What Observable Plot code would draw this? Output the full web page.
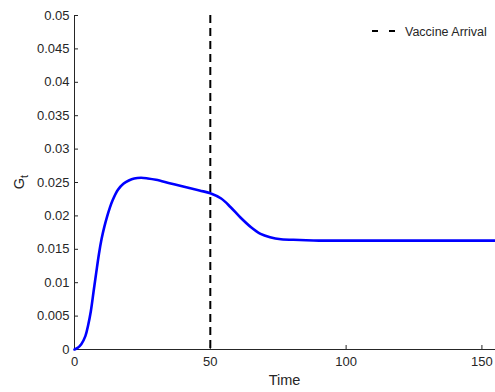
<!DOCTYPE html>
<html>
<head>
<meta charset="utf-8">
<script src="https://cdn.jsdelivr.net/npm/d3@7"></script>
<script src="https://cdn.jsdelivr.net/npm/@observablehq/plot@0.6"></script>
<style>
  html, body { margin: 0; padding: 0; background: #fff; }
  #chart svg { display: block; font-family: "Liberation Sans", Arial, Helvetica, sans-serif; }
</style>
</head>
<body>
<div id="chart"></div>
<script>
// Time axis and share G_t over time
const time = [0, 1, 2.5, 4, 5, 6, 7, 8, 9, 10, 11, 12, 13, 14, 16, 18, 20, 22, 24.5, 27, 30, 35, 40, 46, 50, 54, 57.5, 61, 65, 68.5, 72, 76, 83, 90, 100, 120, 140, 155];
const gt   = [0, 0.0002, 0.0008, 0.0020, 0.0036, 0.0057, 0.0086, 0.0115, 0.0143, 0.0166, 0.0184, 0.0199, 0.0212, 0.0223, 0.0239, 0.0248, 0.0253, 0.0256, 0.0257, 0.0256, 0.0254, 0.0249, 0.0244, 0.0238, 0.0234, 0.0226, 0.0213, 0.0198, 0.0183, 0.0173, 0.0168, 0.0165, 0.0164, 0.0163, 0.0163, 0.0163, 0.0163, 0.0163];
const vaccineArrival = [50];
const xTicks = [0, 50, 100, 150];
const yTicks = [0, 0.005, 0.01, 0.015, 0.02, 0.025, 0.03, 0.035, 0.04, 0.045, 0.05];
const legendLabel = "Vaccine Arrival";

const series = time.map((t, i) => ({t, g: gt[i]}));
const ink = "#262626";

const fmt = d => d === 0 ? "0" : String(+d.toFixed(3));

const W = 495, H = 392, mL = 74, mR = 0, mT = 15, mB = 43, tick = 4;

const chart = Plot.plot({
  width: W,
  height: H,
  marginLeft: mL,
  marginRight: mR,
  marginTop: mT,
  marginBottom: mB,
  style: {fontSize: "13px", color: ink, background: "#fff"},
  x: {domain: [0, 155], label: null},
  y: {domain: [0, 0.05], label: null},
  marks: [
    Plot.axisX({ticks: xTicks, tickSize: 0, tickPadding: 7, tickFormat: d => String(d), fill: ink}),
    Plot.axisY({ticks: yTicks, tickSize: 0, tickPadding: 5, tickFormat: fmt, fill: ink}),
    // inward tick marks
    Plot.tickX(xTicks, {x: d => d, stroke: ink, insetTop: H - mT - mB - tick}),
    Plot.tickY(yTicks, {y: d => d, stroke: ink, insetRight: W - mL - mR - tick}),
    Plot.ruleX([0], {stroke: ink, strokeWidth: 1}),
    Plot.ruleY([0], {stroke: ink, strokeWidth: 1}),
    Plot.ruleX(vaccineArrival, {stroke: "#000", strokeWidth: 2, strokeDasharray: "8,5"}),
    Plot.line(series, {x: "t", y: "g", stroke: "#0000ff", strokeWidth: 2.6, curve: "catmull-rom"})
  ]
});

const svg = d3.select(chart);

// Axis titles
svg.append("text")
  .attr("x", 284.5).attr("y", 385)
  .attr("text-anchor", "middle")
  .attr("fill", ink).attr("font-size", 14.5)
  .text("Time");

const yTitle = svg.append("text")
  .attr("transform", "translate(24,182) rotate(-90)")
  .attr("text-anchor", "middle")
  .attr("fill", ink).attr("font-size", 14.5);
yTitle.append("tspan").text("G");
yTitle.append("tspan").attr("dy", 4).attr("font-size", 11).text("t");

// Legend
const legend = svg.append("g").attr("transform", "translate(372,31)");
legend.append("line")
  .attr("x1", 0).attr("x2", 23).attr("y1", 0).attr("y2", 0)
  .attr("stroke", "#000").attr("stroke-width", 2).attr("stroke-dasharray", "6,11");
legend.append("text")
  .attr("x", 33).attr("y", 4.5)
  .attr("text-anchor", "start")
  .attr("fill", ink).attr("font-size", 12.5)
  .text(legendLabel);

document.getElementById("chart").appendChild(chart);
</script>
</body>
</html>
